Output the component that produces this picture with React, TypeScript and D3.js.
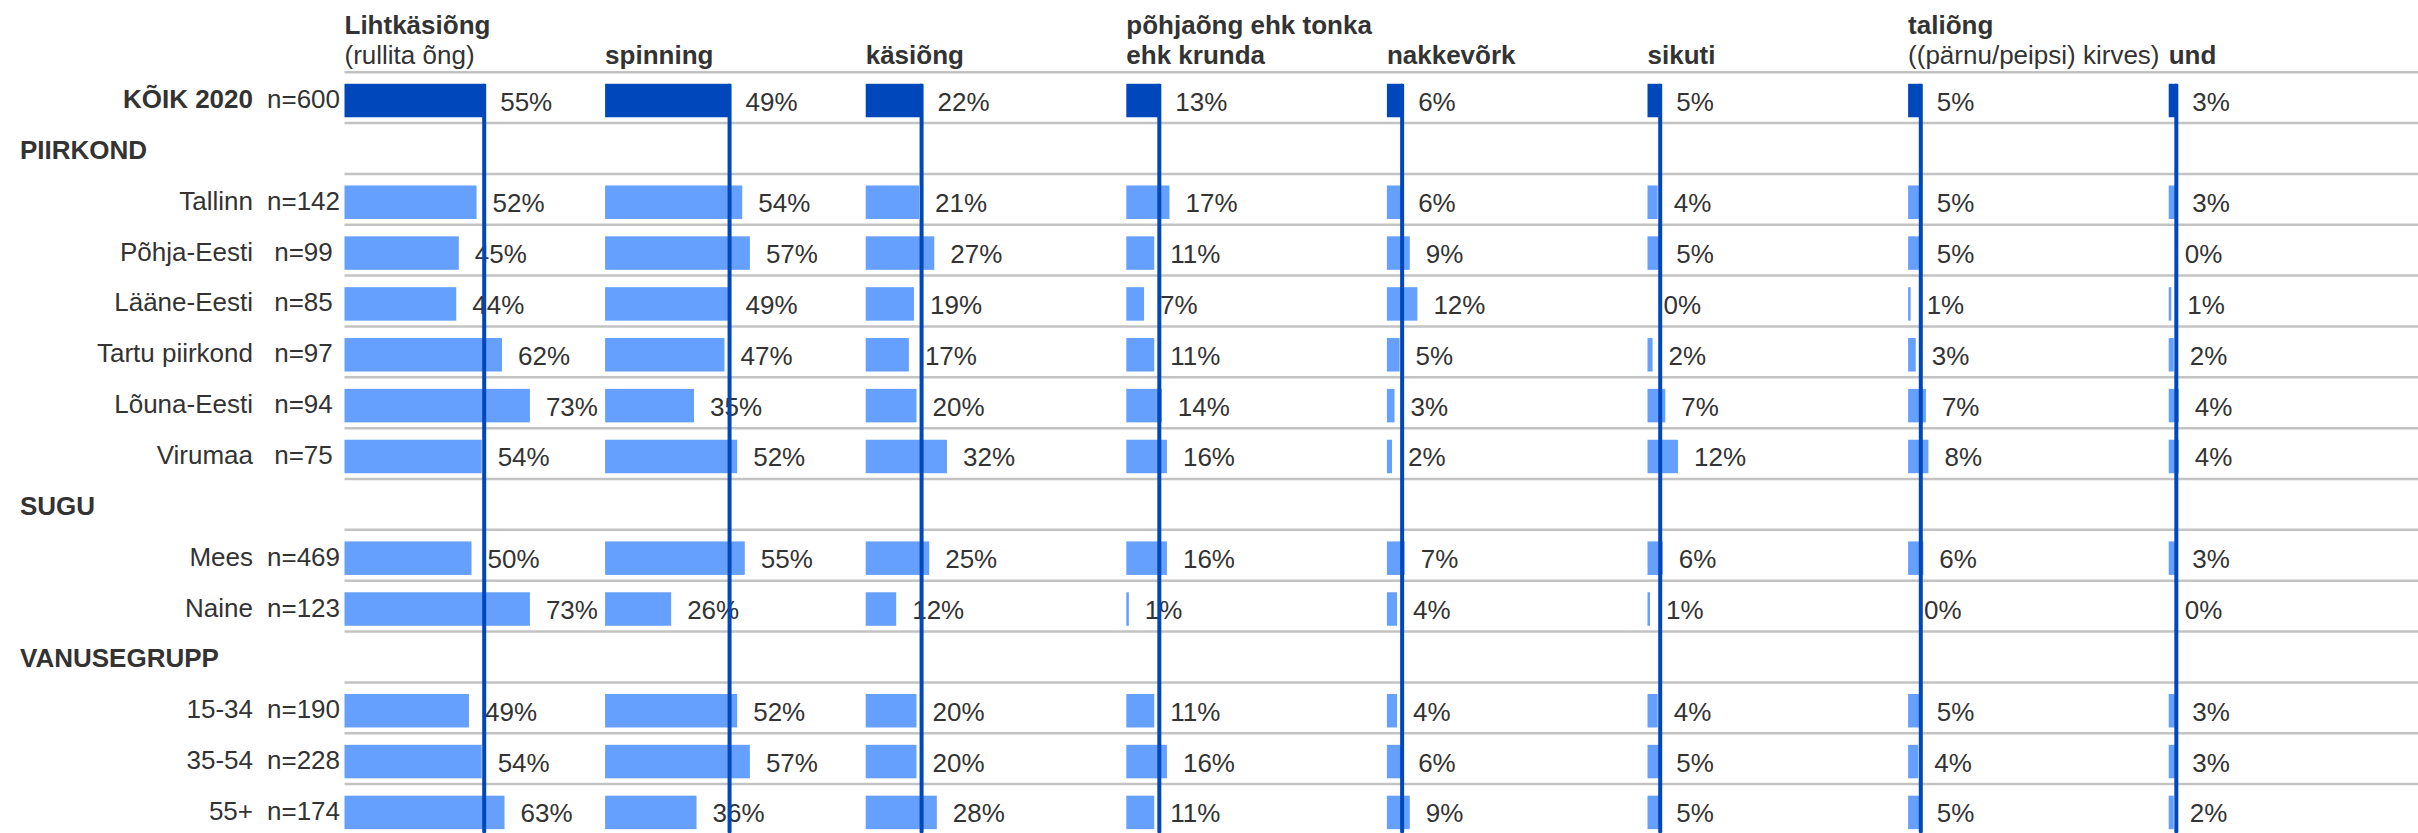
import React from 'react';
import * as d3 from 'd3';

const headerTop = ['Lihtkäsiõng', '', '', 'põhjaõng ehk tonka', '', '', 'taliõng', ''];
const headerBottom = ['(rullita õng)', 'spinning', 'käsiõng', 'ehk krunda', 'nakkevõrk', 'sikuti', '((pärnu/peipsi) kirves)', 'und'];
const headerBottomBold = [false, true, true, true, true, true, false, true];

const rowLabels = ['KÕIK 2020', 'PIIRKOND', 'Tallinn', 'Põhja-Eesti', 'Lääne-Eesti', 'Tartu piirkond', 'Lõuna-Eesti', 'Virumaa', 'SUGU', 'Mees', 'Naine', 'VANUSEGRUPP', '15-34', '35-54', '55+'];
const rowN = ['n=600', '', 'n=142', 'n=99', 'n=85', 'n=97', 'n=94', 'n=75', '', 'n=469', 'n=123', '', 'n=190', 'n=228', 'n=174'];
const rowKind = ['total', 'section', 'item', 'item', 'item', 'item', 'item', 'item', 'section', 'item', 'item', 'section', 'item', 'item', 'item'];

const lihtkasiong = [55, null, 52, 45, 44, 62, 73, 54, null, 50, 73, null, 49, 54, 63];
const spinning = [49, null, 54, 57, 49, 47, 35, 52, null, 55, 26, null, 52, 57, 36];
const kasiong = [22, null, 21, 27, 19, 17, 20, 32, null, 25, 12, null, 20, 20, 28];
const pohjaong = [13, null, 17, 11, 7, 11, 14, 16, null, 16, 1, null, 11, 16, 11];
const nakkevork = [6, null, 6, 9, 12, 5, 3, 2, null, 7, 4, null, 4, 6, 9];
const sikuti = [5, null, 4, 5, 0, 2, 7, 12, null, 6, 1, null, 4, 5, 5];
const taliong = [5, null, 5, 5, 1, 3, 7, 8, null, 6, 0, null, 5, 4, 5];
const und = [3, null, 3, 0, 1, 2, 4, 4, null, 3, 0, null, 3, 3, 2];

const series = [lihtkasiong, spinning, kasiong, pohjaong, nakkevork, sikuti, taliong, und];

const W = 2418;
const H = 833;
const DARK = '#0047bb';
const LIGHT = '#66a0ff';
const TEXT = '#333333';
const GRID = '#c3c3c3';
const FONT = '"Liberation Sans", Arial, sans-serif';

const App = () => {
  const cols = headerBottom.map((_, i) => String(i));
  const rows = rowLabels.map((_, i) => String(i));

  const x = d3.scaleBand().domain(cols).range([344.5, 344.5 + 8 * 260.6]);
  const pct = d3.scaleLinear().domain([0, 100]).range([0, 254]);
  const y = d3.scaleBand().domain(rows).range([75.6, 75.6 + 15 * 50.85]);

  const cy = (i: number) => (y(String(i)) as number) + y.bandwidth() / 2;
  const barH = 33.5;

  return (
    <div style={{ position: 'absolute', left: 0, top: 0 }}>
      <style>{'body{margin:0;overflow:hidden;}'}</style>
      <svg width={W} height={H} style={{ display: 'block' }} fontFamily={FONT} fontSize={26}>
        <rect width={W} height={H} fill="#fff" />

        {/* column headers */}
        {cols.map((c, j) => (
          <g key={'h' + c}>
            {headerTop[j] && (
              <text x={x(c)} y={33.5} fill={TEXT} fontWeight="bold">{headerTop[j]}</text>
            )}
            <text x={x(c)} y={63.5} fill={TEXT} fontWeight={headerBottomBold[j] ? 'bold' : 'normal'}>
              {headerBottom[j]}
            </text>
          </g>
        ))}

        {/* gridlines */}
        {rows.map((r) => (
          <line key={'g' + r} x1={344.5} x2={W} y1={(y(r) as number) - 3.4} y2={(y(r) as number) - 3.4}
            stroke={GRID} strokeWidth={2.5} />
        ))}

        {/* row labels */}
        {rows.map((r, i) => {
          const k = rowKind[i];
          if (k === 'section') {
            return (
              <text key={'l' + r} x={20} y={cy(i) + 7} fill={TEXT} fontWeight="bold">{rowLabels[i]}</text>
            );
          }
          return (
            <g key={'l' + r}>
              <text x={253} y={cy(i) + 7} textAnchor="end" fill={TEXT} fontWeight={k === 'total' ? 'bold' : 'normal'}>
                {rowLabels[i]}
              </text>
              <text x={303.5} y={cy(i) + 7} textAnchor="middle" fill={TEXT}>{rowN[i]}</text>
            </g>
          );
        })}

        {/* bars and value labels */}
        {series.map((vals, j) => (
          <g key={'s' + j}>
            {vals.map((v, i) => {
              if (v === null) return null;
              const x0 = x(String(j)) as number;
              return (
                <g key={i}>
                  {v > 0 && (
                    <rect x={x0} y={cy(i) - barH / 2 - 0.5} width={pct(v)} height={barH}
                      fill={rowKind[i] === 'total' ? DARK : LIGHT} />
                  )}
                  <text x={x0 + pct(v) + 16} y={cy(i) + 9.5} fill={TEXT}>{v}%</text>
                </g>
              );
            })}
          </g>
        ))}

        {/* reference lines at the total value */}
        {series.map((vals, j) => {
          const xv = (x(String(j)) as number) + pct(vals[0] as number);
          const top = cy(0) - barH / 2 - 0.5;
          return <rect key={'r' + j} x={xv - 2} y={top} width={4} height={H - top} fill={DARK} rx={1} />;
        })}
      </svg>
    </div>
  );
};

export default App;
